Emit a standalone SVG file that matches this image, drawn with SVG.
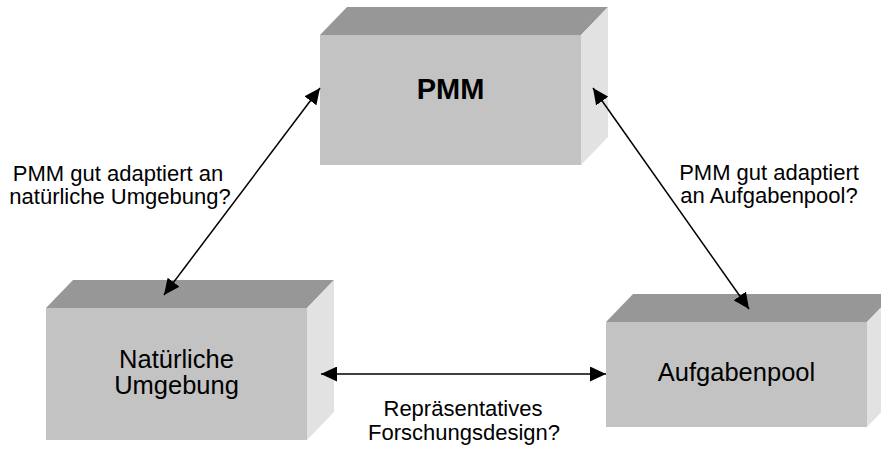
<svg xmlns="http://www.w3.org/2000/svg" width="881" height="450" viewBox="0 0 881 450">
  <style>
    .front { fill: #c3c3c3; }
    .top { fill: #979797; }
    .side { fill: #e2e2e2; }
    .label { font-family: "Liberation Sans", Arial, sans-serif; fill: #000; text-anchor: middle; }
    .box-label { font-size: 25.5px; }
    .edge-label { font-size: 22px; }
    .title { font-size: 29px; font-weight: bold; }
    .conn { stroke: #000; stroke-width: 1.5; fill: none; marker-start: url(#head); marker-end: url(#head); }
  </style>
  <defs>
    <marker id="head" viewBox="0 0 16 15" refX="16" refY="7.5" markerWidth="16" markerHeight="15" markerUnits="userSpaceOnUse" orient="auto-start-reverse">
      <path d="M0,0 L16,7.5 L0,15 z" fill="#000"/>
    </marker>
  </defs>
  <rect width="881" height="450" fill="#fff"/>

  <!-- PMM block -->
  <g id="pmm">
    <rect class="front" x="320" y="35" width="261" height="130"/>
    <polygon class="top" points="320,35 347,7 608,7 581,35"/>
    <polygon class="side" points="581,35 608,7 608,137 581,165"/>
    <text class="label title" x="450.5" y="99">PMM</text>
  </g>

  <!-- natural environment block -->
  <g id="umgebung">
    <rect class="front" x="46" y="308" width="261" height="132"/>
    <polygon class="top" points="46,308 73,280 334,280 307,308"/>
    <polygon class="side" points="307,308 334,280 334,412 307,440"/>
    <text class="label box-label" x="176.5" y="368">Natürliche</text>
    <text class="label box-label" x="176.5" y="394">Umgebung</text>
  </g>

  <!-- task pool block -->
  <g id="aufgabenpool">
    <rect class="front" x="606" y="322" width="261" height="105"/>
    <polygon class="top" points="606,322 633,294 894,294 867,322"/>
    <polygon class="side" points="867,322 894,294 894,399 867,427"/>
    <text class="label box-label" x="736.5" y="381">Aufgabenpool</text>
  </g>

  <!-- connectors -->
  <g id="connectors">
    <line class="conn" x1="164" y1="295" x2="320" y2="88"/>
    <line class="conn" x1="749" y1="309" x2="593" y2="88"/>
    <line class="conn" x1="321" y1="374" x2="606" y2="374"/>
  </g>

  <!-- connector labels -->
  <g id="labels">
    <text class="label edge-label" x="118" y="181">PMM gut adaptiert an</text>
    <text class="label edge-label" x="120" y="204">natürliche Umgebung?</text>
    <text class="label edge-label" x="769" y="180">PMM gut adaptiert</text>
    <text class="label edge-label" x="769" y="203">an Aufgabenpool?</text>
    <text class="label edge-label" x="463" y="416">Repräsentatives</text>
    <text class="label edge-label" x="464" y="440">Forschungsdesign?</text>
  </g>
</svg>
